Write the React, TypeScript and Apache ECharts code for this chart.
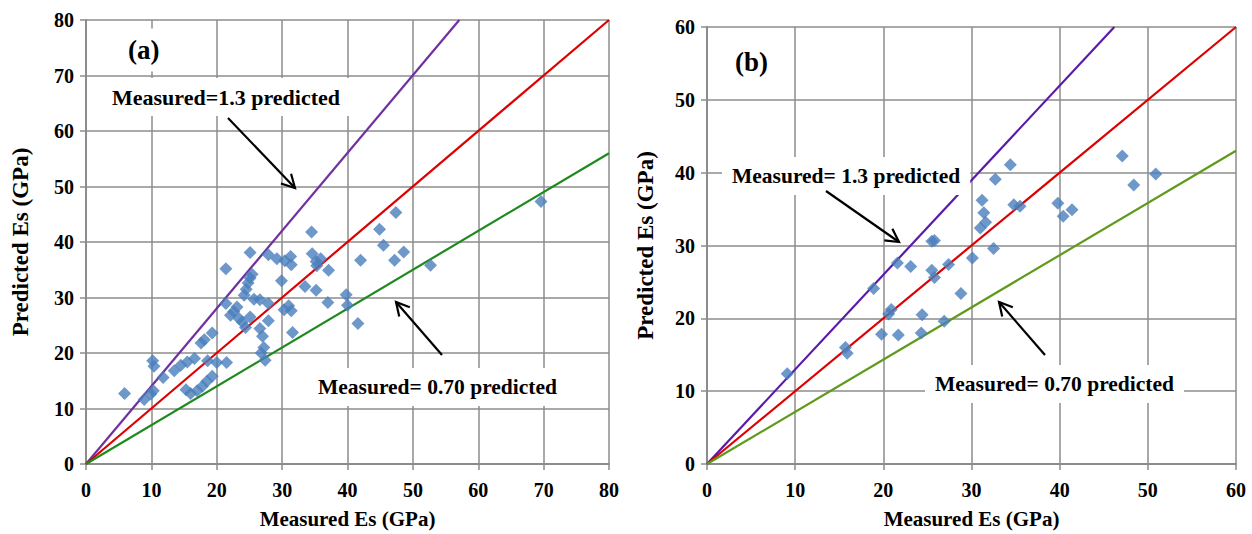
import React, { useEffect, useRef } from "react";
import * as echarts from "echarts";

// Panel (a) measured vs predicted Es (GPa)
const panelAPoints: number[][] = [
  [5.9, 12.7], [8.9, 11.6], [9.9, 12.6], [10.3, 13.2], [10.2, 18.6], [10.4, 17.6], [11.8, 15.6],
  [13.5, 16.8], [14.5, 17.8], [15.5, 18.4], [16.6, 19.0], [15.3, 13.4], [16.0, 12.7], [17.0, 13.2],
  [17.8, 14.0], [18.5, 14.9], [19.3, 15.8], [17.6, 21.8], [18.1, 22.4], [19.3, 23.6], [18.6, 18.6],
  [20.0, 18.3], [21.5, 18.3], [21.4, 35.2], [21.4, 28.9], [22.1, 26.8], [22.6, 27.5], [23.1, 28.3],
  [23.4, 26.2], [23.9, 25.6], [24.4, 24.6], [24.2, 30.4], [24.5, 31.5], [24.8, 32.6], [25.1, 33.5],
  [25.4, 34.2], [25.1, 38.1], [25.1, 26.5], [25.7, 29.7], [26.6, 29.6], [26.6, 24.4], [27.0, 23.0],
  [26.8, 20.0], [27.2, 21.0], [27.4, 18.7], [27.9, 25.8], [27.9, 28.9], [27.9, 37.7], [29.2, 37.0],
  [30.4, 36.6], [29.9, 33.0], [30.3, 27.8], [31.0, 28.5], [31.4, 27.6], [31.3, 37.4], [31.4, 35.9],
  [31.6, 23.7], [33.5, 32.0], [34.5, 41.8], [34.6, 37.9], [35.2, 36.5], [35.9, 37.0], [35.2, 31.3],
  [35.3, 35.7], [37.1, 34.9], [37.0, 29.1], [39.8, 30.5], [40.0, 28.6], [41.6, 25.3], [42.0, 36.7],
  [44.9, 42.3], [45.5, 39.4], [47.4, 45.3], [47.2, 36.7], [48.6, 38.2], [52.7, 35.8], [69.6, 47.3],
];

// Panel (b) measured vs predicted Es (GPa)
const panelBPoints: number[][] = [
  [9.1, 12.4], [15.7, 16.0], [15.9, 15.2], [18.9, 24.1], [19.8, 17.8], [20.6, 20.6], [20.9, 21.2],
  [21.6, 27.6], [21.7, 17.7], [23.1, 27.1], [24.3, 18.0], [24.4, 20.5], [25.5, 30.6], [25.8, 30.7],
  [25.5, 26.6], [25.8, 25.6], [26.9, 19.6], [27.4, 27.4], [28.8, 23.4], [30.1, 28.3], [31.0, 32.4],
  [31.2, 36.2], [31.4, 34.5], [31.6, 33.2], [32.5, 29.6], [32.7, 39.1], [34.4, 41.1], [34.8, 35.6],
  [35.5, 35.4], [39.8, 35.8], [40.4, 34.0], [41.4, 34.9], [47.1, 42.3], [48.4, 38.3], [50.9, 39.8],
];

// Reference lines (end points)
const lineAUpper: number[][] = [[0, 0], [57.1, 80]];
const lineAEqual: number[][] = [[0, 0], [80, 80]];
const lineALower: number[][] = [[0, 0], [80, 56]];
const lineBUpper: number[][] = [[0, 0], [46.2, 60]];
const lineBEqual: number[][] = [[0, 0], [60, 60]];
const lineBLower: number[][] = [[0, 0], [60, 43]];

const axisMaxA = 80;
const axisMaxB = 60;
const tickStep = 10;

const labelUpperA = "Measured=1.3 predicted";
const labelUpperB = "Measured= 1.3 predicted";
const labelLower = "Measured= 0.70 predicted";
const xName = "Measured Es (GPa)";
const yName = "Predicted Es (GPa)";

const FONT = "'Liberation Serif', 'Times New Roman', serif";

function arrow(tail: number[], head: number[]) {
  const dx = head[0] - tail[0];
  const dy = head[1] - tail[1];
  const len = Math.sqrt(dx * dx + dy * dy);
  const ux = dx / len;
  const uy = dy / len;
  const hl = 13;
  const hw = 7;
  const bx = head[0] - ux * hl;
  const by = head[1] - uy * hl;
  const p1 = [bx - uy * hw, by + ux * hw];
  const p2 = [bx + uy * hw, by - ux * hw];
  const style = { stroke: "#000", lineWidth: 2.2, fill: null as any };
  return [
    { type: "line", shape: { x1: tail[0], y1: tail[1], x2: head[0], y2: head[1] }, style, z: 100 },
    { type: "polyline", shape: { points: [p1, head, p2] }, style, z: 100 },
  ];
}

function boxText(text: string, x: number, y: number, size: number) {
  return {
    type: "text",
    x,
    y,
    z: 90,
    style: {
      text,
      font: `bold ${size}px ${FONT}`,
      fill: "#000",
      backgroundColor: "#fff",
      padding: [8, 10],
      align: "left",
      verticalAlign: "middle",
    },
  };
}

export default function App() {
  const ref = useRef<HTMLDivElement>(null);

  useEffect(() => {
    if (!ref.current) return;
    const chart = echarts.init(ref.current, null, { renderer: "svg" });

    const axisLabel = { fontFamily: FONT, fontWeight: "bold", fontSize: 20, color: "#000", margin: 16 };
    const splitLine = { show: true, lineStyle: { color: "#8c8c8c", width: 1.5 } };
    const axisLine = { show: true, lineStyle: { color: "#8c8c8c", width: 2 } };
    const axisTick = { show: true, length: 6, lineStyle: { color: "#8c8c8c", width: 1.5 } };
    const nameStyle = { fontFamily: FONT, fontWeight: "bold", fontSize: 21, color: "#000" };

    const mkX = (gridIndex: number, max: number) => ({
      type: "value", gridIndex, min: 0, max, interval: tickStep,
      name: xName, nameLocation: "middle", nameGap: 44, nameTextStyle: nameStyle,
      axisLabel, splitLine, axisLine, axisTick,
    });
    const mkY = (gridIndex: number, max: number, gap: number) => ({
      type: "value", gridIndex, min: 0, max, interval: tickStep,
      name: yName, nameLocation: "middle", nameGap: gap, nameRotate: 90,
      nameTextStyle: { ...nameStyle, fontSize: 23 },
      axisLabel: { ...axisLabel, margin: 12 }, splitLine, axisLine, axisTick,
    });

    const scatter = (idx: number, data: number[][]) => ({
      type: "scatter", xAxisIndex: idx, yAxisIndex: idx, data,
      symbol: "diamond", symbolSize: 13, itemStyle: { color: "#4a7ebb" }, z: 5,
    });
    const ln = (idx: number, data: number[][], color: string) => ({
      type: "line", xAxisIndex: idx, yAxisIndex: idx, data, symbol: "none",
      lineStyle: { color, width: 2.2 }, z: 3, silent: true,
    });

    chart.setOption({
      animation: false,
      backgroundColor: "#fff",
      grid: [
        { left: 86, top: 20, width: 523, height: 445 },
        { left: 707, top: 27, width: 529, height: 438 },
      ],
      xAxis: [mkX(0, axisMaxA), mkX(1, axisMaxB)],
      yAxis: [mkY(0, axisMaxA, 54), mkY(1, axisMaxB, 50)],
      series: [
        ln(0, lineAUpper, "#7030a0"),
        ln(0, lineAEqual, "#dd0000"),
        ln(0, lineALower, "#1e8a1e"),
        ln(1, lineBUpper, "#5a1aa8"),
        ln(1, lineBEqual, "#dd0000"),
        ln(1, lineBLower, "#5f9a1a"),
        scatter(0, panelAPoints),
        scatter(1, panelBPoints),
      ],
      graphic: [
        boxText("(a)", 118, 50, 27),
        boxText(labelUpperA, 102, 97, 22),
        boxText(labelLower, 308, 387, 21.5),
        ...arrow([228, 118], [295, 188]),
        ...arrow([442, 355], [396, 302]),
        boxText("(b)", 725, 62, 27),
        boxText(labelUpperB, 722, 176, 21.5),
        boxText(labelLower, 925, 384, 21.5),
        ...arrow([826, 191], [899, 242]),
        ...arrow([1045, 355], [999, 302]),
      ],
    });

    return () => chart.dispose();
  }, []);

  return (
    <div
      ref={ref}
      style={{ position: "absolute", left: 0, top: 0, width: 1252, height: 534, background: "#fff" }}
    />
  );
}
